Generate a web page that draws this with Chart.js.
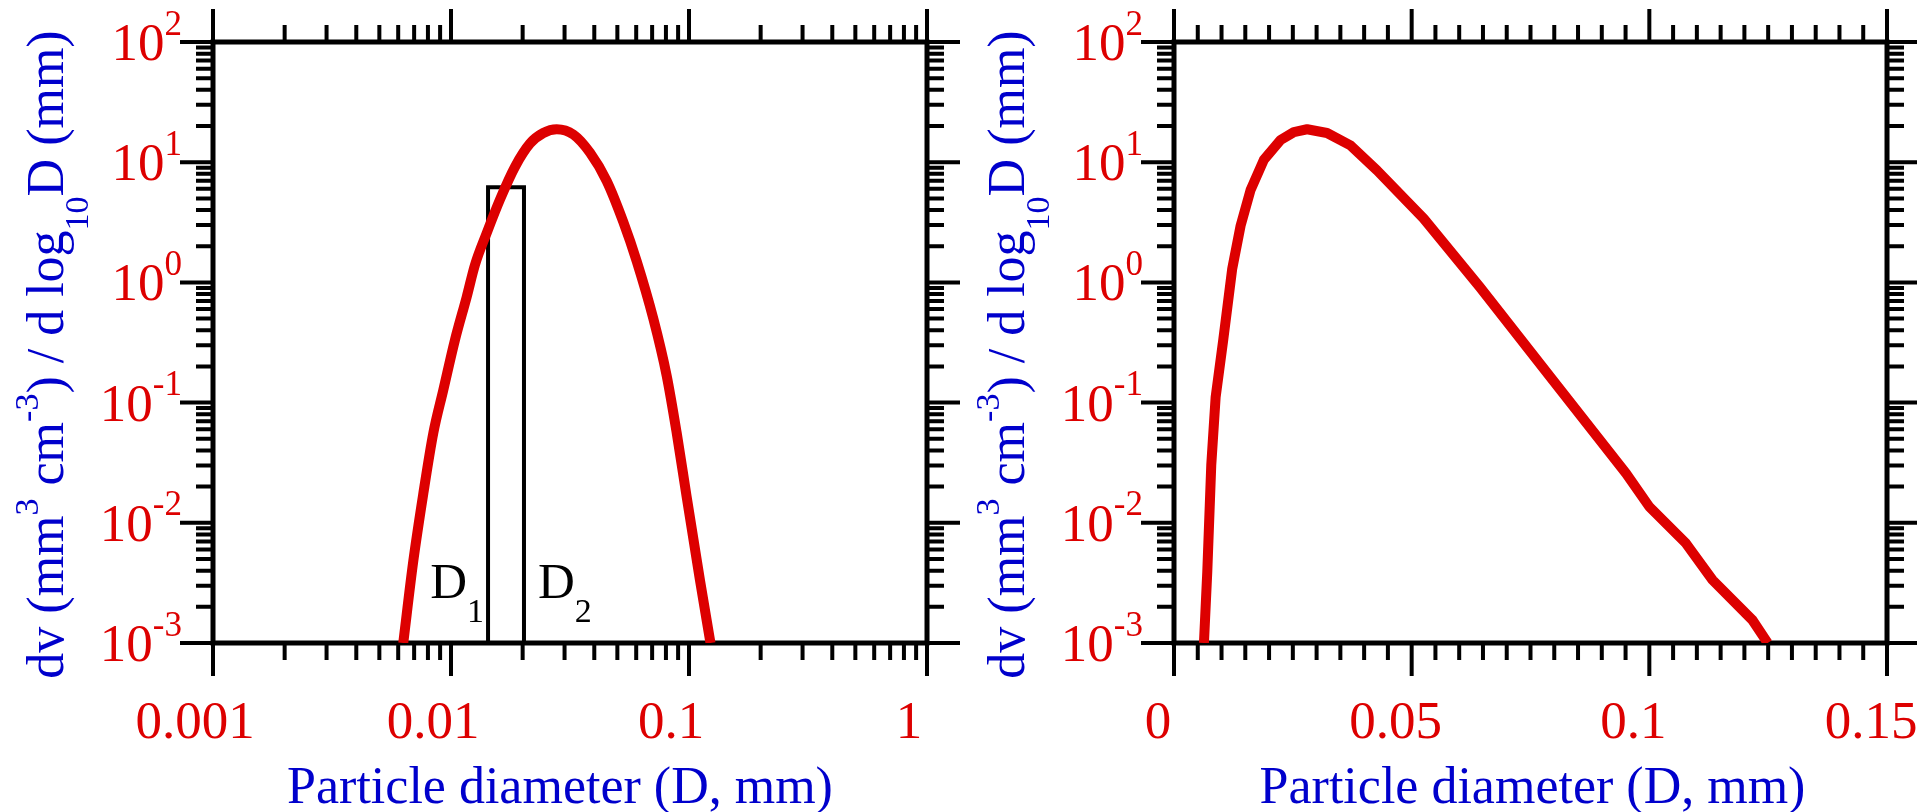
<!DOCTYPE html>
<html>
<head>
<meta charset="utf-8">
<title>Particle size distribution</title>
<script src="https://cdn.jsdelivr.net/npm/chart.js@4.4.0/dist/chart.umd.min.js"></script>
<style>
  html, body { margin: 0; padding: 0; background: #fff; }
  #wrap { position: relative; width: 1917px; height: 812px; overflow: hidden; }
  #wrap canvas { position: absolute; left: 0; top: 0; }
</style>
</head>
<body>
<div id="wrap">
  <canvas id="logChart" width="1917" height="812"></canvas>
  <canvas id="linChart" width="1917" height="812"></canvas>
</div>
<script>
// Left panel: smooth fit on log-log axes (D in mm, dv/dlogD)
const fitD  = [0.0063, 0.00694, 0.00765, 0.00843, 0.00928, 0.01039, 0.01164, 0.01261, 0.01413, 0.01607,
               0.01857, 0.02147, 0.02442, 0.02781, 0.03265, 0.03837, 0.04510, 0.05297, 0.06030, 0.07079,
               0.08058, 0.08878, 0.09779, 0.1112, 0.1231];
const fitDv = [0.001, 0.00477, 0.0175, 0.056, 0.127, 0.332, 0.757, 1.40, 2.58, 4.91,
               9.16, 14.3, 17.5, 18.8, 17.0, 12.0, 6.98, 3.18, 1.50, 0.50,
               0.1675, 0.056, 0.0164, 0.00333, 0.001];

// size bin between D1 and D2
const binD  = [0.01431, 0.01431, 0.02026, 0.02026];
const binDv = [0.001, 6.2, 6.2, 0.001];

// Right panel: measured distribution on a linear D axis
const measD  = [0.0063, 0.0070, 0.00784, 0.00876, 0.01036, 0.01225, 0.01401, 0.01611, 0.01891, 0.02242,
                0.02521, 0.0280, 0.0322, 0.03712, 0.04271, 0.05252, 0.06429, 0.07969, 0.0951, 0.1000,
                0.1077, 0.1133, 0.1217, 0.1249];
const measDv = [0.001, 0.0039, 0.0303, 0.111, 0.332, 1.30, 2.96, 5.87, 10.5, 15.3,
                17.8, 18.8, 17.5, 13.8, 8.55, 3.40, 0.920, 0.154, 0.0258, 0.0136,
                0.00675, 0.00334, 0.00155, 0.001];

// tick labels
const logXTicks  = [0.001, 0.01, 0.1, 1];
const logXLabels = ['0.001', '0.01', '0.1', '1'];
const linXTicks  = [0, 0.05, 0.1, 0.15];
const linXLabels = ['0', '0.05', '0.1', '0.15'];
const yTicks     = [0.001, 0.01, 0.1, 1, 10, 100];
const yExps      = ['-3', '-2', '-1', '0', '1', '2'];

const CURVE_RED = '#dd0000';
const LABEL_RED = '#dd0000';
const BLUE = '#0000cc';
const SERIF = '"Liberation Serif", "Times New Roman", serif';
const MAJOR = 33, MINOR = 17;
const TICK_FONT = 53;

function logMarks(min, max) {
    const out = [];
    for (let e = Math.round(Math.log10(min)); Math.pow(10, e) <= max * 1.0001; e++) {
        const dec = Math.pow(10, e);
        for (let k = 1; k <= 9; k++) {
            if (k * dec > max * 1.0001) break;
            out.push({ v: k * dec, major: k === 1 });
        }
    }
    return out;
}

function linMarks(min, max, step, every) {
    const out = [];
    const n = Math.round((max - min) / step);
    for (let i = 0; i <= n; i++) out.push({ v: min + i * step, major: i % every === 0 });
    return out;
}

// parts: [text, '' | 'sup' | 'sub']
function drawRich(ctx, parts, x, y, size, align) {
    const fontOf = p => `${p[1] ? Math.round(size * 0.66) : size}px ${SERIF}`;
    let w = 0;
    parts.forEach(p => { ctx.font = fontOf(p); w += ctx.measureText(p[0]).width; });
    let cx = align === 'right' ? x - w : align === 'center' ? x - w / 2 : x;
    parts.forEach(p => {
        ctx.font = fontOf(p);
        const dy = p[1] === 'sup' ? -0.48 * size : p[1] === 'sub' ? 0.48 * size : 0;
        ctx.fillText(p[0], cx, y + dy);
        cx += ctx.measureText(p[0]).width;
    });
}

const yTitle = [['dv (mm', ''], ['3', 'sup'], [' cm', ''], ['-3', 'sup'], [') / d log', ''], ['10', 'sub'], ['D (mm)', '']];
const xTitle = [['Particle diameter (D, mm)', '']];

const framePlugin = {
    id: 'frame',
    beforeDatasetsDraw(chart, args, o) {
        const { ctx, chartArea: a } = chart;
        const xs = chart.scales.x, ys = chart.scales.y;
        ctx.save();
        ctx.strokeStyle = '#000';
        ctx.lineWidth = 4;
        ctx.beginPath();
        o.xMarks.forEach(t => {
            const px = xs.getPixelForValue(t.v);
            const len = t.major ? MAJOR : MINOR;
            ctx.moveTo(px, a.bottom); ctx.lineTo(px, a.bottom + len);
            ctx.moveTo(px, a.top); ctx.lineTo(px, a.top - len);
        });
        o.yMarks.forEach(t => {
            const py = ys.getPixelForValue(t.v);
            const len = t.major ? MAJOR : MINOR;
            ctx.moveTo(a.left, py); ctx.lineTo(a.left - len, py);
            ctx.moveTo(a.right, py); ctx.lineTo(a.right + len, py);
        });
        ctx.stroke();
        ctx.lineWidth = 5;
        ctx.strokeRect(a.left, a.top, a.right - a.left, a.bottom - a.top);
        ctx.restore();
    },
    afterDraw(chart, args, o) {
        const { ctx, chartArea: a } = chart;
        const xs = chart.scales.x, ys = chart.scales.y;
        ctx.save();
        ctx.textBaseline = 'alphabetic';
        ctx.fillStyle = LABEL_RED;
        o.xTicks.forEach((v, i) => {
            drawRich(ctx, [[o.xLabels[i], '']], xs.getPixelForValue(v) + o.xLabelShift, a.bottom + 95, TICK_FONT, 'center');
        });
        yTicks.forEach((v, i) => {
            drawRich(ctx, [['10', ''], [yExps[i], 'sup']], a.left - 31, ys.getPixelForValue(v) + 18, TICK_FONT, 'right');
        });
        ctx.fillStyle = BLUE;
        drawRich(ctx, xTitle, (a.left + a.right) / 2 + o.xTitleShift, a.bottom + 160, 52, 'center');
        ctx.save();
        ctx.translate(a.left - 150, (a.top + a.bottom) / 2 + 12);
        ctx.rotate(-Math.PI / 2);
        drawRich(ctx, yTitle, 0, 0, 52, 'center');
        ctx.restore();
        ctx.fillStyle = '#000';
        (o.notes || []).forEach(n => {
            const px = xs.getPixelForValue(n.at);
            drawRich(ctx, n.parts, px + n.dx, a.bottom - 45, 51, n.align);
        });
        ctx.restore();
    }
};

Chart.register(framePlugin);

function pts(xs, ys) {
    return xs.map((x, i) => ({ x: x, y: ys[i] }));
}

function baseOptions(xScale, pad, frame) {
    return {
        responsive: false,
        animation: false,
        events: [],
        layout: { padding: pad },
        scales: {
            x: xScale,
            y: { type: 'logarithmic', min: 0.001, max: 100, display: false }
        },
        plugins: {
            legend: { display: false },
            tooltip: { enabled: false },
            frame: frame
        }
    };
}

new Chart(document.getElementById('logChart'), {
    type: 'line',
    data: {
        datasets: [
            {
                data: pts(fitD, fitDv),
                borderColor: CURVE_RED,
                borderWidth: 10,
                pointRadius: 0,
                cubicInterpolationMode: 'monotone',
                fill: false
            },
            {
                data: pts(binD, binDv),
                borderColor: '#000',
                borderWidth: 4,
                borderJoinStyle: 'miter',
                pointRadius: 0,
                tension: 0,
                fill: false
            }
        ]
    },
    options: baseOptions(
        { type: 'logarithmic', min: 0.001, max: 1, display: false },
        { left: 213, top: 42, right: 1917 - 927, bottom: 812 - 643 },
        {
            xMarks: logMarks(0.001, 1),
            yMarks: logMarks(0.001, 100),
            xTicks: logXTicks, xLabels: logXLabels, xLabelShift: -18, xTitleShift: -10,
            notes: [
                { at: binD[0], dx: -4, align: 'right', parts: [['D', ''], ['1', 'sub']] },
                { at: binD[2], dx: 14, align: 'left', parts: [['D', ''], ['2', 'sub']] }
            ]
        }
    )
});

new Chart(document.getElementById('linChart'), {
    type: 'line',
    data: {
        datasets: [{
            data: pts(measD, measDv),
            borderColor: CURVE_RED,
            borderWidth: 10,
            borderJoinStyle: 'round',
            pointRadius: 0,
            tension: 0,
            fill: false
        }]
    },
    options: baseOptions(
        { type: 'linear', min: 0, max: 0.15, display: false },
        { left: 1174, top: 42, right: 1917 - 1887, bottom: 812 - 643 },
        {
            xMarks: linMarks(0, 0.15, 0.005, 10),
            yMarks: logMarks(0.001, 100),
            xTicks: linXTicks, xLabels: linXLabels, xLabelShift: -16, xTitleShift: 2
        }
    )
});
</script>
</body>
</html>
